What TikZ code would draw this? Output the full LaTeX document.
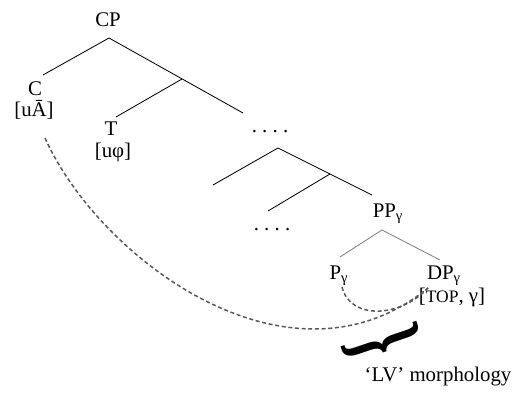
\documentclass[tikz,border=0pt]{standalone}
\usepackage{fontspec}
\setmainfont{Liberation Serif}

\tikzset{
  lbl/.style={font=\fontsize{12.5}{14}\selectfont, inner sep=0pt},
  branch/.style={line width=0.5pt},
  lowbranch/.style={line width=0.5pt, gray},
  agree/.style={gray!70!black, line width=0.9pt, dash pattern=on 2.4pt off 1.6pt},
}

\begin{document}
\begin{tikzpicture}[x=0.6pt,y=-0.6pt]%
\useasboundingbox (0,0) rectangle (512,396);%
% labels
\node[lbl] (cp) at (108,20) {CP};%
\node[lbl] (c) at (35,89) {C};%
\node[lbl] (cfeat) at (34,110) {[uĀ]};%
\node[lbl] (t) at (111,129) {T};%
\node[lbl] (tfeat) at (113,152) {[uφ]};%
\node[lbl, anchor=base] (dotsa) at (270,133) {.\ .\ .\ .};%
\node[lbl, anchor=base] (dotsb) at (272,231) {.\ .\ .\ .};%
\node[lbl] (pp) at (388,214) {PP\textsubscript{γ}};%
\node[lbl] (p) at (339,276) {P\textsubscript{γ}};%
\node[lbl] (dp) at (444,276) {DP\textsubscript{γ}};%
\node[lbl] (dpfeat) at (452,297) {[{\fontsize{10.5}{10}\selectfont TOP}, γ]};%
\node[lbl] (lv) at (438,377) {`LV' morphology};%
\node[font=\fontsize{58}{58}\selectfont\bfseries, inner sep=0pt, rotate=-71.3, xscale=0.62] (brace) at (382,343) {\}};%
% branch points
\coordinate (cp-top) at (109,38);%
\coordinate (c-end) at (43,75);%
\coordinate (cp-r) at (243,113);%
\coordinate (tp-top) at (182,79);%
\coordinate (t-end) at (116,117);%
\coordinate (x-top) at (278,148);%
\coordinate (x-l) at (213,185);%
\coordinate (x-r) at (372,195);%
\coordinate (y-top) at (330,174);%
\coordinate (y-l) at (268,211);%
\coordinate (pp-top) at (382,230);%
\coordinate (p-end) at (340,257);%
\coordinate (dp-end) at (440,260);%
\draw[branch] (c-end) -- (cp-top) -- (cp-r);%
\draw[branch] (tp-top) -- (t-end);%
\draw[branch] (x-l) -- (x-top) -- (x-r);%
\draw[branch] (y-top) -- (y-l);%
\draw[lowbranch] (p-end) -- (pp-top) -- (dp-end);%
% agreement paths
\coordinate (agr-c) at (45,138);%
\coordinate (agr-p) at (342,287);%
\coordinate (agr-dp) at (428,288);%
\draw[agree] (agr-c) .. controls (100,260) and (290,400) .. (agr-dp);%
\draw[agree] (agr-p) .. controls (350,320) and (400,318) .. (agr-dp);%
\end{tikzpicture}
\end{document}
